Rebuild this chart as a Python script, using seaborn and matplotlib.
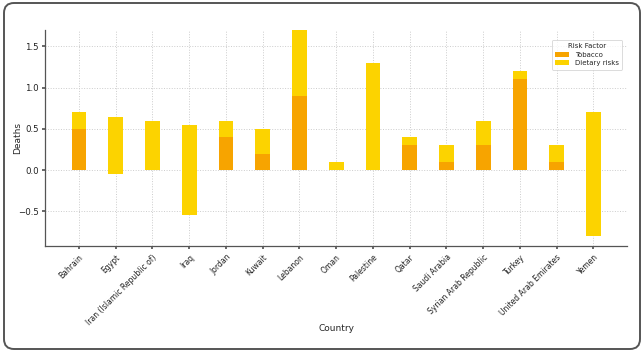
"""
Tobacco vs dietary risk deaths by country, stacked bars.
"""

import matplotlib
matplotlib.use('Agg')
import matplotlib.pyplot as plt
from matplotlib.patches import FancyBboxPatch
import seaborn as sns

# data
countries = ['Bahrain', 'Egypt', 'Iran (Islamic Republic of)', 'Iraq', 'Jordan', 'Kuwait',
             'Lebanon', 'Oman', 'Palestine', 'Qatar', 'Saudi Arabia', 'Syrian Arab Republic',
             'Turkey', 'United Arab Emirates', 'Yemen']
tobacco = [0.5, -0.05, 0.0, -0.55, 0.4, 0.2, 0.9, 0.0, 0.0, 0.3, 0.1, 0.3, 1.1, 0.1, -0.8]
dietary = [0.2, 0.7, 0.6, 1.1, 0.2, 0.3, 0.8, 0.1, 1.3, 0.1, 0.2, 0.3, 0.1, 0.2, 1.5]

c_tob = '#F7A400'
c_diet = '#FCD300'


def riskPlot():
    sns.set_theme(style='whitegrid', rc={'grid.linestyle': ':', 'grid.color': '#cccccc',
                                         'grid.linewidth': 0.7, 'axes.edgecolor': '#555555',
                                         'axes.linewidth': 0.9, 'xtick.bottom': True,
                                         'ytick.left': True, 'xtick.major.size': 2.5,
                                         'ytick.major.size': 2.5, 'xtick.color': '#555555',
                                         'ytick.color': '#555555'})
    plt.rcParams['font.family'] = ['DejaVu Sans']

    f, ax = plt.subplots(figsize=(6.44, 3.52), dpi=100)
    f.subplots_adjust(left=0.07, right=0.974, top=0.915, bottom=0.30)

    sns.barplot(x=countries, y=tobacco, color=c_tob, saturation=1, width=0.4,
                errorbar=None, label='Tobacco', linewidth=0, ax=ax)
    ax.bar(range(len(countries)), dietary, bottom=tobacco, width=0.4,
           color=c_diet, linewidth=0, label='Dietary risks')

    sns.despine(ax=ax)
    ax.set_xlim(-0.92, 14.92)
    ax.set_ylim(-0.925, 1.7)
    ax.set_yticks([-0.5, 0.0, 0.5, 1.0, 1.5])
    ax.grid(True, axis='both')
    ax.set_axisbelow(True)

    plt.setp(ax.get_xticklabels(), rotation=45, ha='right', rotation_mode='anchor')
    ax.tick_params(axis='x', labelsize=5.5, labelcolor='#222222', pad=2)
    ax.tick_params(axis='y', labelsize=6.2, labelcolor='#222222', pad=2)
    ax.set_xlabel('Country', fontsize=6.5)
    ax.set_ylabel('Deaths', fontsize=6.5)
    ax.xaxis.set_label_coords(0.5, -0.36)
    ax.yaxis.set_label_coords(-0.04, 0.5)

    leg = ax.legend(title='Risk Factor', loc='upper right', fontsize=5, title_fontsize=5,
                    frameon=True, handlelength=2.0, borderpad=0.5, labelspacing=0.35,
                    bbox_to_anchor=(0.997, 0.97))
    leg.get_frame().set_edgecolor('#cccccc')
    leg.get_frame().set_linewidth(0.6)

    # rounded frame around the whole figure
    frame = FancyBboxPatch((0.04, 0.03), 6.36, 3.46, boxstyle='round,pad=0,rounding_size=0.1',
                           transform=f.dpi_scale_trans, fill=False, edgecolor='#555555',
                           linewidth=1.4)
    f.patches.append(frame)

    f.savefig('out.png', dpi=100)


if __name__ == '__main__':
    riskPlot()
